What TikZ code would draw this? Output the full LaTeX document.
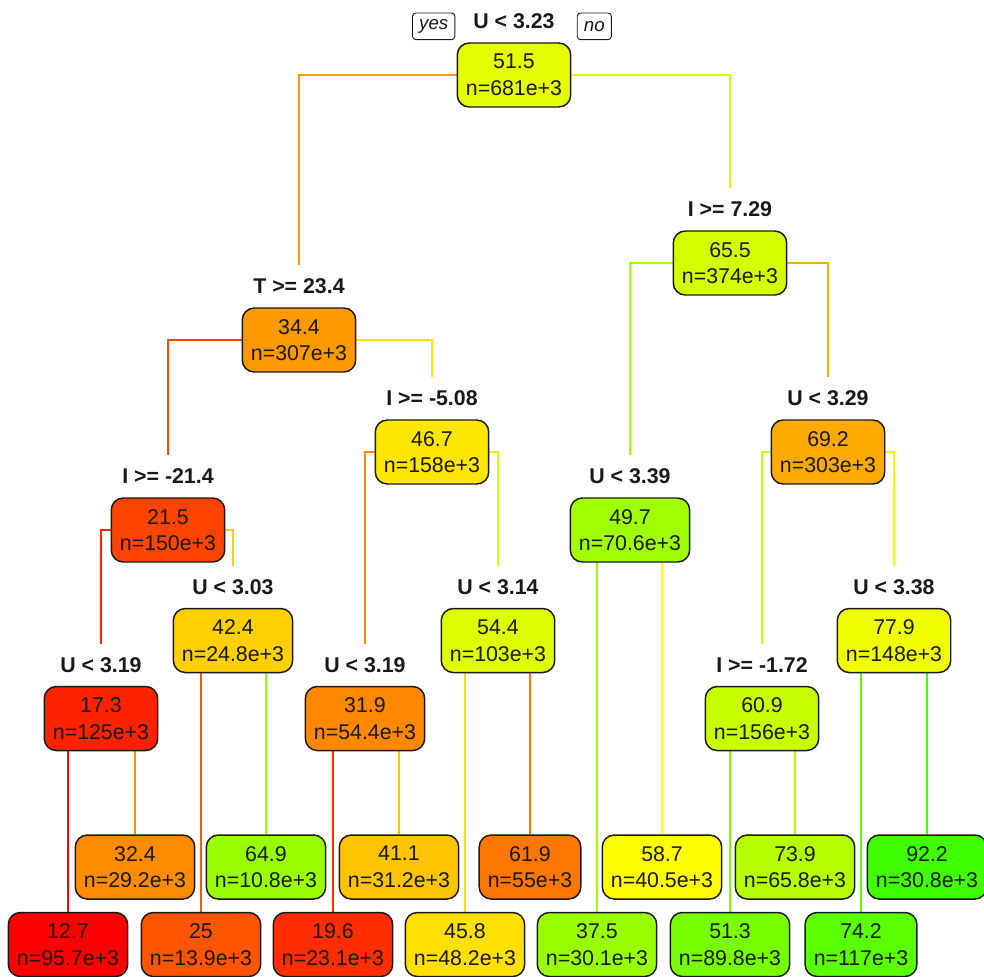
\documentclass[tikz,border=0pt]{standalone}
\usepackage{fontspec}
\setmainfont{Liberation Sans}
\pgfdeclarelayer{wires}
\pgfsetlayers{wires,main}

% node fill colours
\definecolor{cN1}{RGB}{229,255,0}
\definecolor{cN2}{RGB}{255,153,0}
\definecolor{cN3}{RGB}{212,255,0}
\definecolor{cN4}{RGB}{255,68,0}
\definecolor{cN5}{RGB}{255,230,0}
\definecolor{cN6}{RGB}{160,255,0}
\definecolor{cN7}{RGB}{255,170,0}
\definecolor{cN8}{RGB}{255,34,0}
\definecolor{cN9}{RGB}{255,208,0}
\definecolor{cN10}{RGB}{255,136,0}
\definecolor{cN11}{RGB}{221,255,0}
\definecolor{cN12}{RGB}{200,255,0}
\definecolor{cN13}{RGB}{240,255,0}
\definecolor{cL32}{RGB}{255,140,0}
\definecolor{cL64}{RGB}{153,255,0}
\definecolor{cL41}{RGB}{255,196,0}
\definecolor{cL61}{RGB}{255,119,0}
\definecolor{cL58}{RGB}{255,255,0}
\definecolor{cL73}{RGB}{181,255,0}
\definecolor{cL92}{RGB}{64,255,0}
\definecolor{cL12}{RGB}{255,0,0}
\definecolor{cL25}{RGB}{255,85,0}
\definecolor{cL19}{RGB}{255,45,0}
\definecolor{cL45}{RGB}{255,224,0}
\definecolor{cL37}{RGB}{153,255,0}
\definecolor{cL51}{RGB}{119,255,0}
\definecolor{cL74}{RGB}{90,255,0}
\definecolor{ink}{RGB}{25,25,25}

\tikzset{
  x=0.75pt, y=-0.75pt,
  box/.style={draw=ink, line width=1.1pt, rounded corners=9pt, fill=#1,
    align=center, inner xsep=6.5pt, inner ysep=0pt, minimum height=48pt,
    text=ink, font=\fontsize{16}{20}\selectfont},
  split/.style={anchor=base, inner sep=0pt, text=ink,
    font=\fontsize{16}{20}\selectfont\bfseries},
  tag/.style={draw=ink, line width=0.7pt, rounded corners=2.5pt, fill=white,
    inner xsep=5pt, inner ysep=0pt, minimum height=20pt, text=ink,
    font=\fontsize{14}{16}\selectfont\itshape},
  wire/.style={draw=#1, line width=1.2pt},
}

\begin{document}
\begin{tikzpicture}
\useasboundingbox (0,0) rectangle (984,976);

% inner nodes
\node[box=cN1]  (n1)  at (514,75)  {51.5\\n=681e+3};
\node[box=cN2]  (n2)  at (299,340) {34.4\\n=307e+3};
\node[box=cN3]  (n3)  at (730,263) {65.5\\n=374e+3};
\node[box=cN4]  (n4)  at (168,530) {21.5\\n=150e+3};
\node[box=cN5]  (n5)  at (432,452) {46.7\\n=158e+3};
\node[box=cN6]  (n6)  at (630,530) {49.7\\n=70.6e+3};
\node[box=cN7]  (n7)  at (828,452) {69.2\\n=303e+3};
\node[box=cN8]  (n8)  at (101,718.5) {17.3\\n=125e+3};
\node[box=cN9]  (n9)  at (233,640.5) {42.4\\n=24.8e+3};
\node[box=cN10] (n10) at (365,718.5) {31.9\\n=54.4e+3};
\node[box=cN11] (n11) at (498,640.5) {54.4\\n=103e+3};
\node[box=cN12] (n12) at (762,718.5) {60.9\\n=156e+3};
\node[box=cN13] (n13) at (894,640.5) {77.9\\n=148e+3};

% split labels
\node[split] (t1)  at (514,28.5)  {U < 3.23};
\node[split] (t2)  at (299,293.5) {T >= 23.4};
\node[split] (t3)  at (730,216.5) {I >= 7.29};
\node[split] (t4)  at (168,483.5) {I >= -21.4};
\node[split] (t5)  at (432,405.5) {I >= -5.08};
\node[split] (t6)  at (630,483.5) {U < 3.39};
\node[split] (t7)  at (828,405.5) {U < 3.29};
\node[split] (t8)  at (101,672)   {U < 3.19};
\node[split] (t9)  at (233,594)   {U < 3.03};
\node[split] (t10) at (365,672)   {U < 3.19};
\node[split] (t11) at (498,594)   {U < 3.14};
\node[split] (t12) at (762,672)   {I >= -1.72};
\node[split] (t13) at (894,594)   {U < 3.38};

% yes / no tags
\node[tag] (yes) at (433.7,26.3) {yes};
\node[tag] (no)  at (594.3,26.3) {no};

% leaves, upper row
\node[box=cL32] (l32) at (135,867) {32.4\\n=29.2e+3};
\node[box=cL64] (l64) at (266,867) {64.9\\n=10.8e+3};
\node[box=cL41] (l41) at (399,867) {41.1\\n=31.2e+3};
\node[box=cL61] (l61) at (530,867) {61.9\\n=55e+3};
\node[box=cL58] (l58) at (662,867) {58.7\\n=40.5e+3};
\node[box=cL73] (l73) at (795,867) {73.9\\n=65.8e+3};
\node[box=cL92] (l92) at (927,867) {92.2\\n=30.8e+3};

% leaves, lower row
\node[box=cL12] (l12) at (68,944.5)  {12.7\\n=95.7e+3};
\node[box=cL25] (l25) at (201,944.5) {25\\n=13.9e+3};
\node[box=cL19] (l19) at (333,944.5) {19.6\\n=23.1e+3};
\node[box=cL45] (l45) at (465,944.5) {45.8\\n=48.2e+3};
\node[box=cL37] (l37) at (597,944.5) {37.5\\n=30.1e+3};
\node[box=cL51] (l51) at (730,944.5) {51.3\\n=89.8e+3};
\node[box=cL74] (l74) at (861,944.5) {74.2\\n=117e+3};

% branches, drawn beneath the boxes
\begin{pgfonlayer}{wires}
  \def\gap{9.75pt}
  \draw[wire=cN2]  (n1.center) -| ([yshift=\gap]t2.north);
  \draw[wire=cN3]  (n1.center) -| ([yshift=\gap]t3.north);
  \draw[wire=cN4]  (n2.center) -| ([yshift=\gap]t4.north);
  \draw[wire=cN5]  (n2.center) -| ([yshift=\gap]t5.north);
  \draw[wire=cN6]  (n3.center) -| ([yshift=\gap]t6.north);
  \draw[wire=cN7]  (n3.center) -| ([yshift=\gap]t7.north);
  \draw[wire=cN8]  (n4.center) -| ([yshift=\gap]t8.north);
  \draw[wire=cN9]  (n4.center) -| ([yshift=\gap]t9.north);
  \draw[wire=cN10] (n5.center) -| ([yshift=\gap]t10.north);
  \draw[wire=cN11] (n5.center) -| ([yshift=\gap]t11.north);
  \draw[wire=cN12] (n7.center) -| ([yshift=\gap]t12.north);
  \draw[wire=cN13] (n7.center) -| ([yshift=\gap]t13.north);
  \draw[wire=cL37] (n6.center) -| (l37.north);
  \draw[wire=cL58] (n6.center) -| (l58.north);
  \draw[wire=cL12] (n8.center) -| (l12.north);
  \draw[wire=cL32] (n8.center) -| (l32.north);
  \draw[wire=cL25] (n9.center) -| (l25.north);
  \draw[wire=cL64] (n9.center) -| (l64.north);
  \draw[wire=cL19] (n10.center) -| (l19.north);
  \draw[wire=cL41] (n10.center) -| (l41.north);
  \draw[wire=cL45] (n11.center) -| (l45.north);
  \draw[wire=cL61] (n11.center) -| (l61.north);
  \draw[wire=cL51] (n12.center) -| (l51.north);
  \draw[wire=cL73] (n12.center) -| (l73.north);
  \draw[wire=cL74] (n13.center) -| (l74.north);
  \draw[wire=cL92] (n13.center) -| (l92.north);
\end{pgfonlayer}
\end{tikzpicture}
\end{document}
